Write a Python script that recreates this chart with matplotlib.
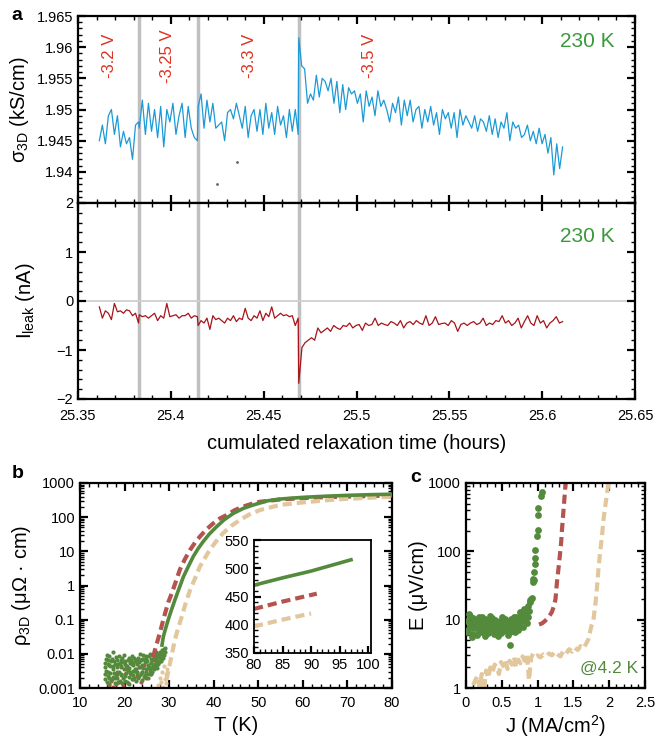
import matplotlib
matplotlib.use("Agg")
import matplotlib.pyplot as plt
import numpy as np
from matplotlib.ticker import (MultipleLocator, LogLocator, NullFormatter, FixedLocator,
                               FuncFormatter)


plt.rcParams["font.family"] = ["Liberation Sans", "DejaVu Sans"]
plt.rcParams["mathtext.fontset"] = "custom"
plt.rcParams["mathtext.rm"] = "Liberation Sans"
plt.rcParams["mathtext.it"] = "Liberation Sans:italic"

# ---------------- panel a: relaxation traces ----------------
switch_times = [25.3828, 25.4145, 25.4688]
switch_labels = ["-3.2 V", "-3.25 V", "-3.3 V", "-3.5 V"]
label_times = [25.3672, 25.3984, 25.4425, 25.5070]
seg_spans = [(25.3615, 25.3826), (25.3830, 25.4143), (25.4147, 25.4686), (25.4689, 25.6110)]

sigma_seg1 = [1.9450, 1.9475, 1.9445, 1.9490, 1.9500, 1.9460, 1.9490, 1.9440, 1.9465, 1.9445,
              1.9455, 1.9420, 1.9475, 1.9480]
sigma_seg2 = [1.9470, 1.9515, 1.9460, 1.9510, 1.9465, 1.9500, 1.9455, 1.9505, 1.9440, 1.9500,
              1.9480, 1.9510, 1.9460, 1.9490, 1.9510, 1.9455, 1.9505, 1.9470, 1.9455, 1.9450]
sigma_seg3 = [1.9505, 1.9525, 1.9470, 1.9515, 1.9480, 1.9510, 1.9470, 1.9475, 1.9480, 1.9450,
              1.9495, 1.9500, 1.9485, 1.9510, 1.9490, 1.9470, 1.9505, 1.9455, 1.9490, 1.9500,
              1.9465, 1.9500, 1.9460, 1.9510, 1.9470, 1.9495, 1.9460, 1.9505, 1.9475, 1.9490,
              1.9455, 1.9500, 1.9465, 1.9500, 1.9460]
sigma_seg4 = [1.9615, 1.9570, 1.9565, 1.9510, 1.9525, 1.9515, 1.9555, 1.9520, 1.9550, 1.9545,
              1.9530, 1.9550, 1.9510, 1.9545, 1.9495, 1.9540, 1.9500, 1.9535, 1.9525, 1.9530,
              1.9510, 1.9525, 1.9480, 1.9530, 1.9505, 1.9520, 1.9490, 1.9530, 1.9505, 1.9515,
              1.9500, 1.9480, 1.9510, 1.9495, 1.9520, 1.9475, 1.9515, 1.9490, 1.9515, 1.9480,
              1.9500, 1.9505, 1.9470, 1.9500, 1.9480, 1.9505, 1.9475, 1.9495, 1.9460, 1.9500,
              1.9485, 1.9495, 1.9470, 1.9495, 1.9455, 1.9500, 1.9475, 1.9490, 1.9480, 1.9470,
              1.9490, 1.9465, 1.9485, 1.9480, 1.9465, 1.9490, 1.9460, 1.9485, 1.9455, 1.9480,
              1.9470, 1.9495, 1.9450, 1.9480, 1.9470, 1.9475, 1.9455, 1.9460, 1.9475, 1.9450,
              1.9465, 1.9445, 1.9470, 1.9445, 1.9460, 1.9430, 1.9455, 1.9395, 1.9445, 1.9405,
              1.9440]
stray_t = [25.4358, 25.4251]
stray_sigma = [1.9415, 1.9380]

leak_seg1 = [-0.12, -0.35, -0.20, -0.25, -0.38, -0.05, -0.22, -0.20, -0.25, -0.18,
             -0.20, -0.30, -0.25, -0.45]
leak_seg2 = [-0.28, -0.32, -0.30, -0.35, -0.30, -0.25, -0.40, -0.30, -0.35, -0.05,
             -0.32, -0.30, -0.28, -0.35, -0.30, -0.30, -0.25, -0.35, -0.30, -0.32]
leak_seg3 = [-0.50, -0.40, -0.45, -0.35, -0.58, -0.30, -0.38, -0.35, -0.40, -0.45,
             -0.35, -0.40, -0.30, -0.42, -0.35, -0.38, -0.15, -0.35, -0.40, -0.30,
             -0.35, -0.20, -0.40, -0.25, -0.32, -0.12, -0.35, -0.30, -0.25, -0.30,
             -0.28, -0.32, -0.30, -0.50, -0.35]
leak_seg4 = [-1.68, -0.95, -0.85, -0.80, -0.75, -0.80, -0.55, -0.65, -0.60, -0.55,
             -0.62, -0.50, -0.55, -0.58, -0.50, -0.52, -0.45, -0.55, -0.50, -0.48,
             -0.60, -0.45, -0.50, -0.48, -0.35, -0.50, -0.45, -0.48, -0.50, -0.42,
             -0.45, -0.50, -0.40, -0.55, -0.45, -0.42, -0.48, -0.40, -0.45, -0.48,
             -0.30, -0.50, -0.45, -0.32, -0.48, -0.46, -0.45, -0.50, -0.40, -0.45,
             -0.62, -0.48, -0.45, -0.50, -0.45, -0.42, -0.48, -0.45, -0.35, -0.50,
             -0.45, -0.48, -0.40, -0.42, -0.30, -0.45, -0.40, -0.50, -0.45, -0.35,
             -0.55, -0.42, -0.30, -0.45, -0.50, -0.30, -0.45, -0.40, -0.55, -0.45,
             -0.40, -0.32, -0.45, -0.42]

# ---------------- panel b: rho(T) ----------------
red_T = [26.4, 27.0, 27.9, 28.5, 29.1, 29.8, 30.6, 31.5, 32.4, 33.5, 34.7, 35.8, 36.9, 38.3,
         39.9, 41.4, 42.9, 44.7, 46.6, 48.5, 50.4, 55.0, 60.0, 65.0, 70.0, 75.0, 80.0]
red_rho = [0.008, 0.016, 0.04, 0.08, 0.155, 0.32, 0.6, 1.3, 2.9, 5.8, 11, 18, 27, 43,
           66, 92, 115, 160, 204, 245, 283, 330, 360, 385, 400, 415, 428]
green_T = [28.4, 28.7, 29.2, 29.8, 30.5, 31.3, 32.2, 33.2, 34.3, 35.4, 36.5, 37.6, 39.0,
           40.6, 42.4, 44.4, 46.6, 48.9, 52.0, 55.0, 60.0, 65.0, 70.0, 75.0, 80.0]
green_rho = [0.018, 0.032, 0.055, 0.1, 0.19, 0.38, 0.8, 1.8, 3.6, 7, 12, 19, 32,
             52, 85, 129, 180, 228, 300, 340, 380, 410, 435, 455, 470]
tan_T = [29.4, 30.2, 30.7, 31.3, 32.0, 32.8, 33.7, 34.7, 35.8, 36.9, 38.0, 39.1, 40.6,
         42.1, 43.9, 45.9, 48.0, 50.4, 55.0, 60.0, 65.0, 70.0, 75.0, 80.0]
tan_rho = [0.0017, 0.0054, 0.011, 0.026, 0.055, 0.12, 0.3, 0.74, 1.6, 3.6, 6.3, 11, 20,
           34, 55, 83, 120, 162, 230, 270, 310, 345, 370, 397]

scat_green_T = [15.6, 15.7, 15.9, 16.0, 16.2, 16.3, 16.5, 16.6, 16.8, 17.0,
                17.1, 17.3, 17.5, 17.6, 17.8, 18.0, 18.2, 18.4, 18.5, 18.7,
                18.9, 19.1, 19.3, 19.4, 19.6, 19.8, 20.0, 20.2, 20.4, 20.5,
                20.7, 20.9, 21.1, 21.3, 21.5, 21.6, 21.8, 22.0, 22.2, 22.4,
                22.6, 22.7, 22.9, 23.1, 23.3, 23.5, 23.7, 23.8, 24.0, 24.2,
                24.4, 24.6, 24.8, 24.9, 25.1, 25.3, 25.5, 25.7, 25.9, 26.0,
                26.2, 26.4, 26.6, 26.8, 27.0, 27.1, 27.3, 27.5, 27.7, 27.9,
                28.1, 28.2, 28.4, 28.6, 28.8, 29.0]
scat_green_rho_a = [0.0040, 0.0025, 0.0070, 0.0015, 0.0050, 0.0030, 0.0085, 0.0020, 0.0045, 0.0060,
                    0.0018, 0.0035, 0.0110, 0.0028, 0.0050, 0.0022, 0.0040, 0.0065, 0.0015, 0.0030,
                    0.0055, 0.0025, 0.0042, 0.0075, 0.0020, 0.0035, 0.0050, 0.0016, 0.0028, 0.0045,
                    0.0068, 0.0021, 0.0038, 0.0055, 0.0025, 0.0085, 0.0032, 0.0048, 0.0019, 0.0062,
                    0.0036, 0.0027, 0.0052, 0.0078, 0.0023, 0.0041, 0.0065, 0.0030, 0.0046, 0.0095,
                    0.0021, 0.0058, 0.0035, 0.0072, 0.0026, 0.0048, 0.0088, 0.0031, 0.0055, 0.0038,
                    0.0066, 0.0045, 0.0082, 0.0052, 0.0075, 0.0042, 0.0063, 0.0095, 0.0058, 0.0074,
                    0.0105, 0.0068, 0.0088, 0.0120, 0.0095, 0.0150]
scat_green_rho_b = [0.0018, 0.0055, 0.0032, 0.0090, 0.0022, 0.0065, 0.0013, 0.0048, 0.0028, 0.0017,
                    0.0072, 0.0045, 0.0021, 0.0060, 0.0014, 0.0080, 0.0026, 0.0019, 0.0052, 0.0085,
                    0.0016, 0.0068, 0.0024, 0.0014, 0.0058, 0.0090, 0.0023, 0.0062, 0.0044, 0.0015,
                    0.0033, 0.0075, 0.0013, 0.0029, 0.0064, 0.0018, 0.0055, 0.0024, 0.0078, 0.0035,
                    0.0016, 0.0068, 0.0030, 0.0020, 0.0058, 0.0098, 0.0025, 0.0072, 0.0017, 0.0038,
                    0.0070, 0.0024, 0.0085, 0.0029, 0.0062, 0.0020, 0.0040, 0.0100, 0.0026, 0.0070,
                    0.0030, 0.0090, 0.0035, 0.0098, 0.0045, 0.0110, 0.0038, 0.0052, 0.0082, 0.0110,
                    0.0060, 0.0095, 0.0130, 0.0075, 0.0140, 0.0110]
scat_red_T = [16.6, 17.0, 17.4, 17.8, 18.1, 18.4, 18.8, 19.2, 19.6, 20.0,
              20.4, 20.8, 21.2, 21.6, 22.0, 22.4, 22.8, 23.2, 23.6, 24.0,
              24.4, 24.8, 25.2, 25.6, 26.0, 26.3, 26.6, 26.9, 27.2, 27.5]
scat_red_rho = [0.0012, 0.0016, 0.0011, 0.0020, 0.0013, 0.0030, 0.0015, 0.0045, 0.0012, 0.0025,
                0.0035, 0.0014, 0.0028, 0.0050, 0.0018, 0.0032, 0.0022, 0.0040, 0.0015, 0.0030,
                0.0048, 0.0020, 0.0038, 0.0026, 0.0055, 0.0042, 0.0065, 0.0050, 0.0080, 0.0100]
scat_tan_T = [27.6, 27.9, 28.1, 28.4, 28.6, 28.8, 29.0, 29.2, 29.4, 29.6]
scat_tan_rho = [0.0012, 0.0020, 0.0015, 0.0030, 0.0011, 0.0045, 0.0018, 0.0026, 0.0014, 0.0035]

inset_green_T = [80, 85, 90, 97]
inset_green_rho = [470, 483, 495, 515]
inset_red_T = [80, 85, 91]
inset_red_rho = [428, 441, 455]
inset_tan_T = [80, 85, 90]
inset_tan_rho = [397, 409, 420]

# ---------------- panel c: E(J) ----------------
green_J = [0.02, 0.03, 0.05, 0.06, 0.08, 0.10, 0.11, 0.13, 0.15, 0.16,
           0.18, 0.20, 0.21, 0.23, 0.25, 0.26, 0.28, 0.30, 0.31, 0.33,
           0.35, 0.36, 0.38, 0.40, 0.41, 0.43, 0.45, 0.46, 0.48, 0.50,
           0.51, 0.53, 0.55, 0.56, 0.58, 0.60, 0.61, 0.63, 0.65, 0.66,
           0.68, 0.70, 0.71, 0.73, 0.75, 0.76, 0.78, 0.80, 0.81, 0.83,
           0.85, 0.86, 0.88, 0.89, 0.90, 0.91, 0.92, 0.93, 0.94, 0.95,
           0.95, 0.96, 0.97, 0.97, 0.99, 1.00, 1.01, 1.01, 1.05, 1.06]
green_E = [9.5, 7.0, 11.5, 8.0, 6.2, 10.5, 7.5, 9.0, 6.0, 8.5,
           11.0, 7.2, 9.8, 6.5, 8.2, 10.2, 7.0, 9.0, 6.3, 11.2,
           8.0, 7.4, 9.5, 6.8, 10.0, 8.3, 5.8, 9.2, 7.6, 10.8,
           6.9, 8.6, 7.3, 9.7, 6.0, 8.1, 4.3, 10.2, 7.8, 9.0,
           6.6, 11.0, 8.4, 7.1, 13.0, 9.3, 12.0, 10.0, 14.5, 11.5,
           9.0, 16.0, 13.5, 18.0, 19.5, 20.0, 21.0, 36.0, 40.0, 50.0,
           38.0, 65.0, 80.0, 105.0, 170.0, 205.0, 340.0, 425.0, 650.0, 740.0]
green_J_extra = [0.02, 0.04, 0.07, 0.09, 0.12, 0.14, 0.17, 0.19, 0.22, 0.24,
                 0.27, 0.29, 0.32, 0.34, 0.37, 0.39, 0.42, 0.44, 0.47, 0.49,
                 0.52, 0.54, 0.57, 0.59, 0.62, 0.64, 0.67, 0.69, 0.72, 0.74,
                 0.77, 0.79, 0.82, 0.84, 0.87]
green_E_extra = [6.5, 12.0, 8.8, 5.6, 7.9, 9.9, 6.4, 8.9, 10.8, 7.7,
                 5.8, 8.0, 9.4, 7.2, 10.5, 6.1, 8.7, 7.0, 9.6, 6.4,
                 8.2, 10.4, 7.0, 9.1, 6.7, 8.8, 10.9, 7.4, 9.5, 8.0,
                 11.5, 7.8, 10.7, 13.5, 11.0]
red_J = [1.02, 1.06, 1.10, 1.14, 1.18, 1.20, 1.23, 1.25, 1.27, 1.29, 1.31, 1.33, 1.34, 1.36, 1.38, 1.39]
red_E = [8.5, 8.8, 9.5, 10.5, 12.0, 13.0, 16.0, 20.0, 35.0, 54.0, 85.0, 140.0, 205.0, 380.0, 700.0, 1000.0]
tan_J = [0.10, 0.13, 0.16, 0.19, 0.22, 0.25, 0.28, 0.31, 0.34, 0.37,
         0.40, 0.43, 0.46, 0.49, 0.52, 0.55, 0.58, 0.61, 0.64, 0.67,
         0.70, 0.73, 0.76, 0.79, 0.82, 0.85, 0.88, 0.91, 0.94, 0.97,
         1.00, 1.04, 1.08, 1.12, 1.16, 1.20, 1.24, 1.28, 1.32, 1.36,
         1.40, 1.44, 1.48, 1.52, 1.56, 1.60, 1.64, 1.68, 1.71, 1.75,
         1.78, 1.81, 1.83, 1.85, 1.87, 1.90, 1.92, 1.95, 1.99]
tan_E = [1.1, 1.3, 1.5, 1.0, 1.6, 0.9, 1.8, 1.4, 2.0, 1.7,
         2.2, 2.0, 1.6, 2.4, 2.1, 2.6, 1.9, 2.5, 2.2, 2.8,
         2.0, 2.6, 2.3, 2.9, 2.5, 3.1, 1.3, 2.8, 3.2, 2.9,
         3.0, 2.8, 3.1, 2.9, 3.2, 3.0, 3.4, 3.1, 2.9, 3.5,
         3.2, 3.7, 3.4, 3.9, 3.6, 4.1, 3.8, 4.5, 5.2, 8.0,
         10.0, 18.0, 30.0, 55.0, 90.0, 170.0, 290.0, 500.0, 1000.0]

C_BLUE = "#1b9ad6"
C_LEAK = "#a5141a"
C_VOLT = "#e0301e"
C_GREEN_TXT = "#3a9a3a"
C_GREEN = "#548a3c"
C_RED = "#b5544f"
C_TAN = "#e3c79c"
C_GREY = "#c0c0c0"

G_FMT = FuncFormatter(lambda v, _: f"{v:g}")


def _style_axis(ax, labelsize=10.5):
    for side in ax.spines.values():
        side.set_linewidth(1.6)
    ax.tick_params(which="both", direction="in", top=True, right=True, labelsize=labelsize)
    ax.tick_params(which="major", length=5.5, width=1.6)
    ax.tick_params(which="minor", length=3.0, width=1.0)


def _seg_times(values, span):
    return np.linspace(span[0], span[1], len(values))


def _draw_panel_a(fig):
    ax_top = fig.add_axes([78 / 656, 1 - 203 / 746, 557 / 656, 187 / 746])
    ax_bot = fig.add_axes([78 / 656, 1 - 399 / 746, 557 / 656, 196 / 746])

    sig_segs = [sigma_seg1, sigma_seg2, sigma_seg3, sigma_seg4]
    leak_segs = [leak_seg1, leak_seg2, leak_seg3, leak_seg4]
    t_sig = np.concatenate([_seg_times(v, s) for v, s in zip(sig_segs, seg_spans)])
    t_leak = np.concatenate([_seg_times(v, s) for v, s in zip(leak_segs, seg_spans)])

    for ax in (ax_top, ax_bot):
        for ts in switch_times:
            ax.axvline(ts, color=C_GREY, lw=2.5, zorder=1)
        ax.set_xlim(25.35, 25.65)
        ax.xaxis.set_major_locator(FixedLocator([25.35, 25.4, 25.45, 25.5, 25.55, 25.6, 25.65]))
        ax.xaxis.set_minor_locator(MultipleLocator(0.01))
        ax.xaxis.set_major_formatter(G_FMT)
        _style_axis(ax)

    ax_top.plot(t_sig, np.concatenate(sig_segs), color=C_BLUE, lw=0.9, zorder=3)
    ax_top.scatter(stray_t, stray_sigma, s=1.0, color="0.4", zorder=3)
    ax_top.set_ylim(1.935, 1.965)
    ax_top.yaxis.set_major_locator(FixedLocator([1.94, 1.945, 1.95, 1.955, 1.96, 1.965]))
    ax_top.yaxis.set_minor_locator(MultipleLocator(0.001))
    ax_top.yaxis.set_major_formatter(G_FMT)
    ax_top.tick_params(labelbottom=False)
    ax_top.set_ylabel("σ$_{\\mathrm{3D}}$ (kS/cm)", fontsize=14.5, labelpad=4)
    for txt, tl in zip(switch_labels, label_times):
        ax_top.text(tl, 1.9586, txt, color=C_VOLT, fontsize=12, rotation=90,
                    ha="center", va="center")
    ax_top.text(0.964, 0.861, "230 K", transform=ax_top.transAxes, color=C_GREEN_TXT,
                fontsize=15, ha="right", va="center")

    ax_bot.axhline(0, color="#cfcfcf", lw=1.3, zorder=1)
    ax_bot.plot(t_leak, np.concatenate(leak_segs), color=C_LEAK, lw=0.9, zorder=3)
    ax_bot.set_ylim(-2, 2)
    ax_bot.yaxis.set_major_locator(MultipleLocator(1))
    ax_bot.yaxis.set_minor_locator(MultipleLocator(0.2))
    ax_bot.tick_params(axis="x", pad=7)
    ax_bot.set_ylabel("I$_{\\mathrm{leak}}$ (nA)", fontsize=14.5, labelpad=14)
    ax_bot.set_xlabel("cumulated relaxation time (hours)", fontsize=14.5, labelpad=8)
    ax_bot.text(0.964, 0.827, "230 K", transform=ax_bot.transAxes, color=C_GREEN_TXT,
                fontsize=15, ha="right", va="center")


def _draw_panel_b(fig):
    ax = fig.add_axes([80 / 656, 1 - 688 / 746, 312 / 656, 205 / 746])
    ax.scatter(scat_red_T, scat_red_rho, s=9, color=C_RED, lw=0, zorder=2)
    ax.scatter(scat_tan_T, scat_tan_rho, s=9, color=C_TAN, lw=0, zorder=2)
    ax.scatter(scat_green_T, scat_green_rho_a, s=9, color=C_GREEN, lw=0, zorder=3)
    ax.scatter(scat_green_T, scat_green_rho_b, s=9, color=C_GREEN, lw=0, zorder=3)
    ax.plot(red_T, red_rho, color=C_RED, lw=3.0, ls=(0, (2.2, 1.2)), zorder=4)
    ax.plot(tan_T, tan_rho, color=C_TAN, lw=3.0, ls=(0, (2.2, 1.2)), zorder=4)
    ax.plot(green_T, green_rho, color=C_GREEN, lw=2.6, zorder=5)
    ax.set_yscale("log")
    ax.set_xlim(10, 80)
    ax.set_ylim(0.001, 1000)
    ax.xaxis.set_major_locator(MultipleLocator(10))
    ax.xaxis.set_minor_locator(MultipleLocator(2))
    ax.set_yticks([0.001, 0.01, 0.1, 1, 10, 100, 1000])
    ax.set_yticklabels(["0.001", "0.01", "0.1", "1", "10", "100", "1000"])
    ax.yaxis.set_minor_locator(LogLocator(base=10, subs=np.arange(2, 10), numticks=20))
    ax.yaxis.set_minor_formatter(NullFormatter())
    _style_axis(ax)
    ax.tick_params(axis="x", pad=6)
    ax.set_xlabel("T (K)", fontsize=14.5, labelpad=4)
    ax.set_ylabel("ρ$_{\\mathrm{3D}}$ (μΩ · cm)", fontsize=14.5, labelpad=4)

    ins = fig.add_axes([254 / 656, 1 - 653 / 746, 117 / 656, 113 / 746])
    ins.plot(inset_red_T, inset_red_rho, color=C_RED, lw=3.0, ls=(0, (2.2, 1.2)))
    ins.plot(inset_tan_T, inset_tan_rho, color=C_TAN, lw=3.0, ls=(0, (2.2, 1.2)))
    ins.plot(inset_green_T, inset_green_rho, color=C_GREEN, lw=2.6)
    ins.set_xlim(80, 100.5)
    ins.set_ylim(350, 550)
    ins.xaxis.set_major_locator(FixedLocator([80, 85, 90, 95, 100]))
    ins.xaxis.set_minor_locator(MultipleLocator(1))
    ins.yaxis.set_major_locator(MultipleLocator(50))
    ins.yaxis.set_minor_locator(MultipleLocator(10))
    for side in ins.spines.values():
        side.set_linewidth(1.3)
    ins.tick_params(which="both", direction="in", labelsize=10.5)
    ins.tick_params(which="major", length=5, width=1.6)
    ins.tick_params(which="minor", length=3, width=1.0)


def _draw_panel_c(fig):
    ax = fig.add_axes([466 / 656, 1 - 688 / 746, 179 / 656, 205 / 746])
    ax.plot(tan_J, tan_E, color=C_TAN, lw=3.0, ls=(0, (2.2, 1.2)), zorder=2)
    ax.plot(red_J, red_E, color=C_RED, lw=3.0, ls=(0, (2.2, 1.2)), zorder=2)
    ax.scatter(green_J_extra, green_E_extra, s=24, color=C_GREEN, lw=0, zorder=3)
    ax.scatter(green_J, green_E, s=24, color=C_GREEN, lw=0, zorder=3)
    ax.set_yscale("log")
    ax.set_xlim(0, 2.5)
    ax.set_ylim(1, 1000)
    ax.xaxis.set_major_locator(FixedLocator([0, 0.5, 1, 1.5, 2, 2.5]))
    ax.xaxis.set_minor_locator(MultipleLocator(0.1))
    ax.xaxis.set_major_formatter(G_FMT)
    ax.set_yticks([1, 10, 100, 1000])
    ax.set_yticklabels(["1", "10", "100", "1000"])
    ax.yaxis.set_minor_locator(LogLocator(base=10, subs=np.arange(2, 10), numticks=20))
    ax.yaxis.set_minor_formatter(NullFormatter())
    _style_axis(ax)
    ax.tick_params(axis="x", pad=6)
    ax.set_xlabel("J (MA/cm$^{2}$)", fontsize=14.5, labelpad=2)
    ax.set_ylabel("E (μV/cm)", fontsize=14.5, labelpad=0)
    ax.text(0.961, 0.098, "@4.2 K", transform=ax.transAxes, color=C_GREEN,
            fontsize=12.5, ha="right", va="center")


def main() -> None:
    fig = plt.figure(figsize=(6.56, 7.46), dpi=100)
    _draw_panel_a(fig)
    _draw_panel_b(fig)
    _draw_panel_c(fig)
    fig.text(17 / 656, 1 - 16 / 746, "a", fontsize=14, fontweight="bold", ha="center", va="center")
    fig.text(18 / 656, 1 - 473 / 746, "b", fontsize=14, fontweight="bold", ha="center", va="center")
    fig.text(416 / 656, 1 - 477 / 746, "c", fontsize=14, fontweight="bold", ha="center", va="center")
    fig.savefig("out.png", dpi=100)
    plt.close(fig)


if __name__ == "__main__":
    main()
